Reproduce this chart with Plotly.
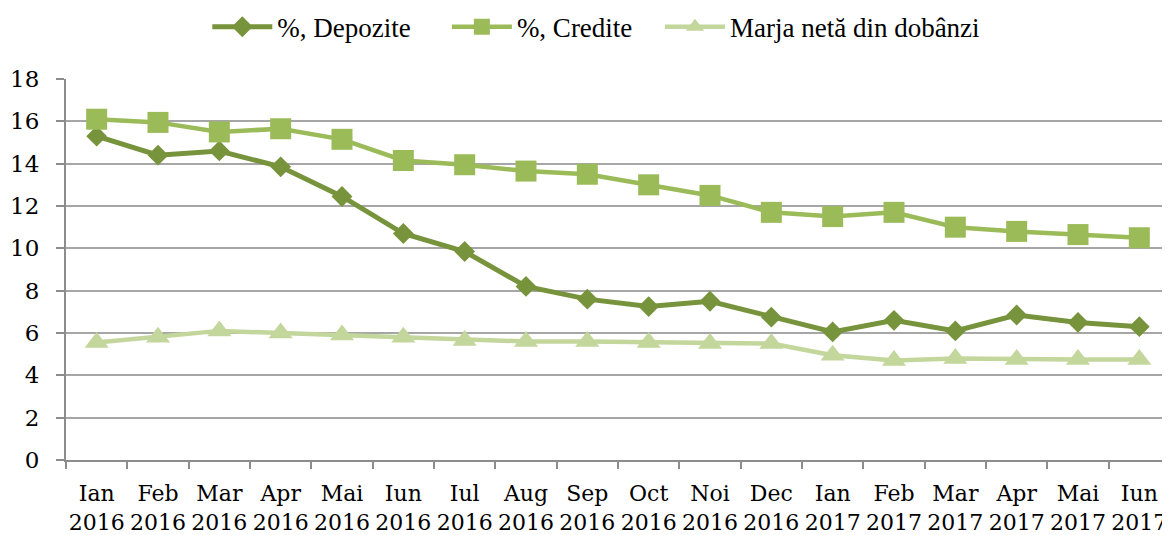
import plotly.graph_objects as go

months = ["Ian<br>2016", "Feb<br>2016", "Mar<br>2016", "Apr<br>2016", "Mai<br>2016", "Iun<br>2016",
          "Iul<br>2016", "Aug<br>2016", "Sep<br>2016", "Oct<br>2016", "Noi<br>2016", "Dec<br>2016",
          "Ian<br>2017", "Feb<br>2017", "Mar<br>2017", "Apr<br>2017", "Mai<br>2017", "Iun<br>2017"]

depozite = [15.3, 14.4, 14.6, 13.85, 12.45, 10.7, 9.85, 8.2, 7.6, 7.25, 7.5, 6.75,
            6.05, 6.6, 6.1, 6.85, 6.5, 6.3]
credite = [16.1, 15.95, 15.5, 15.65, 15.15, 14.15, 13.95, 13.65, 13.5, 13.0, 12.5, 11.7,
           11.5, 11.7, 11.0, 10.8, 10.65, 10.5]
marja = [5.55, 5.8, 6.1, 6.0, 5.9, 5.8, 5.65, 5.6, 5.6, 5.55, 5.5, 5.5,
         4.95, 4.7, 4.8, 4.75, 4.75, 4.75]

series = [
    ("%, Depozite", depozite, "#77933C", "diamond", 16, 5, "legend", 0.128),
    ("%, Credite", credite, "#9BBB59", "square", 21, 4.5, "legend2", 0.345),
    ("Marja netă din dobânzi", marja, "#C3D69B", "triangle-up", 21, 4.5, "legend3", 0.538),
]

fig = go.Figure()
legends = {}
for name, vals, color, sym, size, lw, leg, lx in series:
    fig.add_trace(go.Scatter(
        x=months, y=vals, name=name, mode="lines+markers",
        line=dict(color=color, width=lw),
        marker=dict(symbol=sym, size=size, color=color),
        legend=leg,
    ))
    legends[leg] = dict(orientation="h", x=lx, xanchor="left", y=1.136, yanchor="middle",
                        font=dict(family="Liberation Serif", size=27), itemwidth=60,
                        bgcolor="rgba(0,0,0,0)")

fig.update_layout(
    width=1162, height=527,
    margin=dict(l=58, r=0, t=71, b=75, autoexpand=False),
    paper_bgcolor="white", plot_bgcolor="white",
    font=dict(family="DejaVu Serif", size=22, color="black"),
    showlegend=True,
    **legends,
)
fig.update_xaxes(
    type="category", range=[-0.5, 17.5],
    showline=True, linecolor="#8C8C8C", linewidth=2,
    ticks="outside", tickson="boundaries", ticklen=7, tickcolor="#8C8C8C", tickwidth=1.5,
    tickfont=dict(family="DejaVu Serif", size=22),
    tickangle=0,
    ticklabelstandoff=13,
    showgrid=False,
)
fig.update_yaxes(
    range=[0, 18], dtick=2, tick0=0,
    showline=True, linecolor="#8C8C8C", linewidth=2,
    ticks="outside", ticklen=8, tickcolor="#8C8C8C", tickwidth=1.5,
    showgrid=True, gridcolor="#A6A6A6", gridwidth=1.5,
    tickfont=dict(family="DejaVu Serif", size=23),
    ticklabelstandoff=12,
    zeroline=False,
)

fig.write_html("out.html")
